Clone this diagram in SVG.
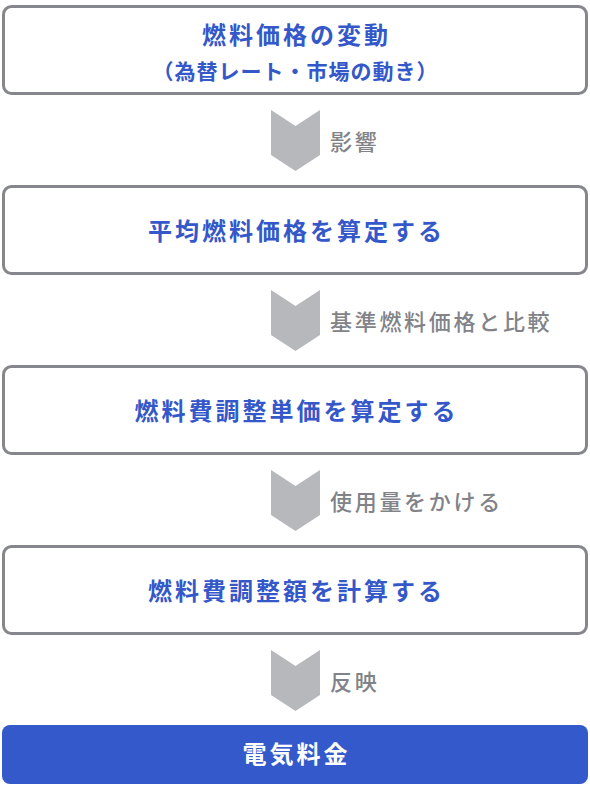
<svg xmlns="http://www.w3.org/2000/svg" width="590" height="796" viewBox="0 0 590 796">
<style>
.box{fill:#ffffff;stroke:#85878c;stroke-width:3}
.t{font-family:"Noto Sans CJK JP","Noto Sans",sans-serif;font-weight:700;font-size:24px;fill:#3458c9;text-anchor:middle;letter-spacing:3px}
.lab{font-family:"Noto Sans CJK JP","Noto Sans",sans-serif;font-weight:500;font-size:22px;fill:#818388;letter-spacing:2.7px}
.chev{fill:#b7b8bc}
.w{fill:#ffffff}
</style>
<rect width="590" height="796" fill="#ffffff"/>
<g id="connectors">
<polygon class="chev" points="271,110 295.5,126 320,110 320,155 295.5,171 271,155"/>
<text class="lab" x="330" y="150">影響</text>
<polygon class="chev" points="271,290 295.5,306 320,290 320,335 295.5,351 271,335"/>
<text class="lab" x="330" y="330">基準燃料価格と比較</text>
<polygon class="chev" points="271,470 295.5,486 320,470 320,515 295.5,531 271,515"/>
<text class="lab" x="330" y="510">使用量をかける</text>
<polygon class="chev" points="271,650 295.5,666 320,650 320,695 295.5,711 271,695"/>
<text class="lab" x="330" y="690">反映</text>
</g>
<g id="n1">
<rect class="box" x="3.5" y="6.5" width="583" height="87" rx="8"/>
<text class="t" x="296.5" y="44">燃料価格の変動</text>
<text class="t" x="295.5" y="79" style="font-size:21px;letter-spacing:1px">（為替レート・市場の動き）</text>
</g>
<g id="n2">
<rect class="box" x="3.5" y="186.5" width="583" height="87" rx="8"/>
<text class="t" x="296.5" y="240">平均燃料価格を算定する</text>
</g>
<g id="n3">
<rect class="box" x="3.5" y="366.5" width="583" height="87" rx="8"/>
<text class="t" x="296.5" y="420">燃料費調整単価を算定する</text>
</g>
<g id="n4">
<rect class="box" x="3.5" y="546.5" width="583" height="87" rx="8"/>
<text class="t" x="296.5" y="600">燃料費調整額を計算する</text>
</g>
<g id="n5">
<rect x="2" y="725" width="586" height="59" rx="8" fill="#3459cb"/>
<text class="t w" x="296.5" y="763">電気料金</text>
</g>
</svg>
